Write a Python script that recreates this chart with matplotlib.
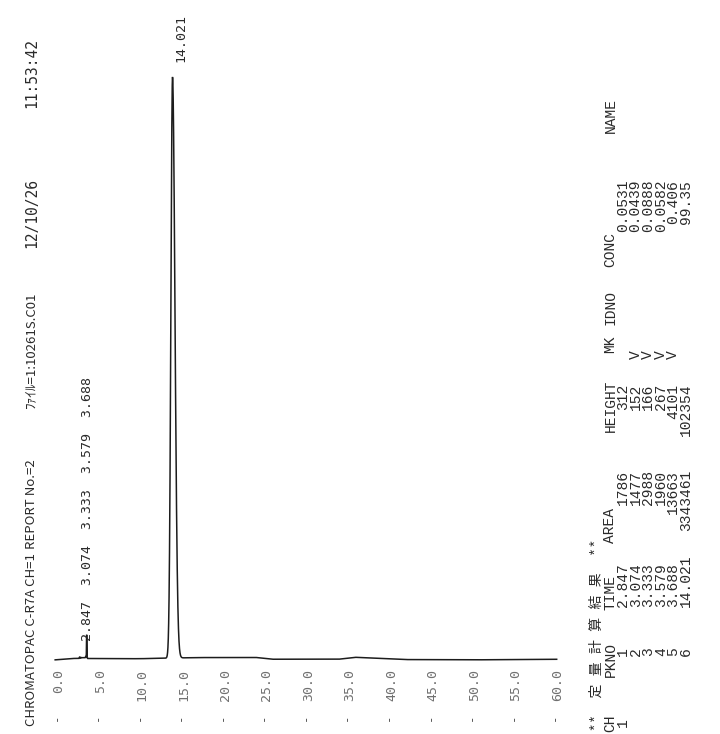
import numpy as np
import matplotlib.pyplot as plt
from matplotlib import transforms

W, H = 720, 734

# report header, printed along the left edge
header = ["CHROMATOPAC C-R7A CH=1", "REPORT No.=2", "ﾌｧｲﾙ=1:10261S.C01",
          "12/10/26", "11:53:42"]

# peak table
pkno = [1, 2, 3, 4, 5, 6]
rt = [2.847, 3.074, 3.333, 3.579, 3.688, 14.021]
area = [1786, 1477, 2988, 1960, 13663, 3343461]
height = [312, 152, 166, 267, 4101, 102354]
mk = ["", "V", "V", "V", "V", ""]
conc = [0.0531, 0.0439, 0.0888, 0.0582, 0.406, 99.35]
columns = ["CH", "PKNO", "TIME", "AREA", "HEIGHT", "MK", "IDNO", "CONC", "NAME"]

# time axis ticks (min)
ticks = np.arange(0, 61, 5)

# small baseline drift (min, uV)
drift_t = [-0.1, 2, 10, 17, 24, 26, 34, 36, 42, 50, 60.2]
drift_v = [-150, 100, 50, 250, 280, -40, -40, 300, -100, -150, -50]

ink = "#1c1c1c"
fig = plt.figure(figsize=(W / 100, H / 100), dpi=100)
fig.patch.set_facecolor("white")

# page axes in pixel units (origin top-left) for the printed text
page = fig.add_axes([0, 0, 1, 1])
page.set_xlim(0, W)
page.set_ylim(H, 0)
page.axis("off")

# chromatogram axes: time runs left->right, signal upwards
x0, kx = 56.0, 8.31            # px of t=0, px per min
y0, y_top = 659.0, 78.0        # px of baseline and of the main apex
ky = (y0 - y_top) / max(height)
tlo, thi = -1.0, 61.0
slo, shi = -3000.0, 110000.0
ax = fig.add_axes([(x0 + kx * tlo) / W, 1 - (y0 - slo * ky) / H,
                   kx * (thi - tlo) / W, ky * (shi - slo) / H])
ax.set_xlim(tlo, thi)
ax.set_ylim(slo, shi)
ax.axis("off")

t = np.linspace(-0.1, 60.25, 60000)
sig = np.interp(t, drift_t, drift_v)
for r, a, h in zip(rt, area, height):
    s = a / (h * np.sqrt(2 * np.pi)) / 60.0
    # printed peaks tail a little on the right side
    sd = np.where(t < r, 0.9 * s, 1.35 * s)
    sig = sig + h * np.exp(-0.5 * ((t - r) / sd) ** 2)
ax.plot(t, sig, color=ink, lw=1.1, solid_joinstyle="miter")

# x in data (time), y in page pixels
xt = transforms.blended_transform_factory(ax.transData, page.transData)
xt_lab = transforms.offset_copy(xt, fig=fig, x=3, y=0, units="dots")
mono = "DejaVu Sans Mono"
for tk in ticks:
    page.text(tk, 669, f"{tk:.1f}", transform=xt_lab, rotation=90,
              rotation_mode="anchor", ha="right", va="center",
              family=mono, fontsize=9.5, color="#707070")
    page.text(tk, 717, "-", transform=xt, rotation=90,
              rotation_mode="anchor", ha="center", va="center",
              family=mono, fontsize=9, color="#555555")

# retention time labels; crowded peaks share one printed line
lab_tr = transforms.offset_copy(ax.transData, fig=fig, x=8, y=16, units="dots")
groups, cur = [], [0]
for i in range(1, len(rt)):
    if rt[i] - rt[cur[-1]] < 1.0:
        cur.append(i)
    else:
        groups.append(cur)
        cur = [i]
groups.append(cur)
for g in groups:
    txt = "  ".join(f"{rt[i]:.3f}" for i in g)
    ax.text(rt[g[0]], height[g[0]], txt, transform=lab_tr, rotation=90,
            rotation_mode="anchor", ha="left", va="center",
            family=mono, fontsize=9.5, color="#2a2a2a", clip_on=False)

# header, each chunk centred on the stretch it covers on the printout
spans = [(725, 555), (546, 462), (410, 292), (257, 168), (113, 33)]
for k, (s, (yb, ye)) in enumerate(zip(header, spans)):
    if k < 3:
        fam, fs = ["Noto Sans CJK JP"], 9.5
    else:
        fam, fs = [mono], 10.5
    page.text(30, (yb + ye) / 2, s, rotation=90, rotation_mode="anchor",
              ha="center", va="center_baseline", family=fam, fontsize=fs,
              color="#2a2a2a")

# result table
tfam = ["Liberation Mono", "Noto Sans CJK JP"]
tkw = dict(rotation=90, rotation_mode="anchor", va="center",
           family=tfam, color="#2a2a2a")
page.text(596.5, 731, "**  定 量 計 算 結 果  **", ha="left", fontsize=10, **tkw)
xh = 610.5
for c, yb in zip(columns, [732, 677, 610, 543, 432, 353, 325, 267, 133]):
    page.text(xh, yb, c, ha="left", fontsize=10.5, **tkw)
rows_x = [623 + 12.6 * i for i in range(len(pkno))]
page.text(rows_x[0], 718, "1", ha="right", fontsize=10.5, **tkw)
for i, xr in enumerate(rows_x):
    page.text(xr, 647, f"{pkno[i]}", ha="right", fontsize=10.5, **tkw)
    page.text(xr, 607, f"{rt[i]:.3f}", ha="left", fontsize=10.5, **tkw)
    page.text(xr, 470, f"{area[i]}", ha="right", fontsize=10.5, **tkw)
    page.text(xr, 384, f"{height[i]}", ha="right", fontsize=10.5, **tkw)
    if mk[i]:
        page.text(xr, 350, mk[i], ha="right", fontsize=10.5, **tkw)
    page.text(xr, 180, f"{conc[i]:.4g}", ha="right", fontsize=10.5, **tkw)

fig.savefig("out.png", dpi=100, facecolor="white")
